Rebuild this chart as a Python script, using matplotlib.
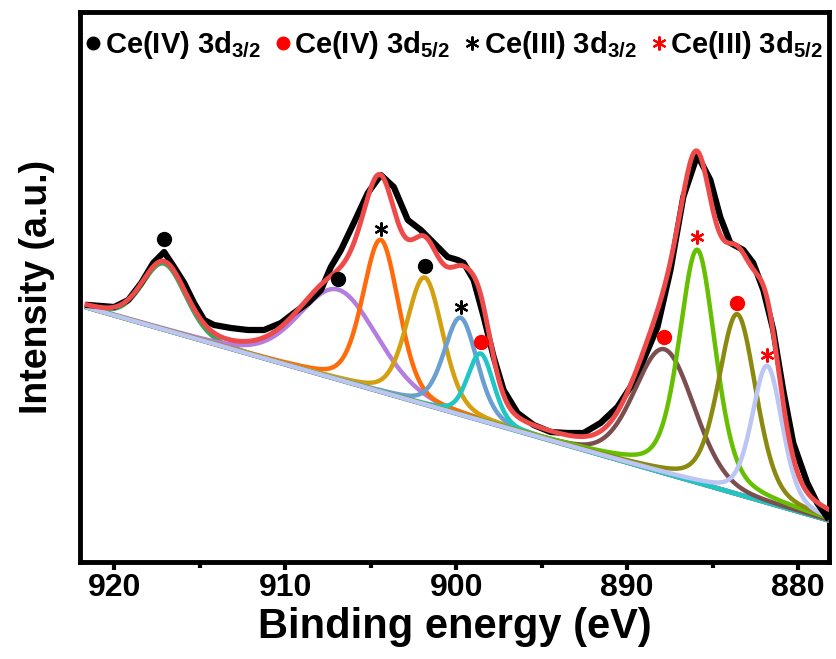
import numpy as np
import matplotlib
matplotlib.use("Agg")
import matplotlib.pyplot as plt
from matplotlib.lines import Line2D
import matplotlib.transforms as mtransforms

plt.rcParams['font.family'] = ['Liberation Sans', 'DejaVu Sans']
plt.rcParams['font.weight'] = 'bold'
plt.rcParams['mathtext.fontset'] = 'custom'
plt.rcParams['mathtext.rm'] = 'Liberation Sans:bold'
plt.rcParams['mathtext.bf'] = 'Liberation Sans:bold'
plt.rcParams['mathtext.it'] = 'Liberation Sans:bold'

# ---- measured spectrum (binding energy, intensity a.u.) ----
exp_energy = [921.52, 920.76, 920.0, 919.18, 918.42, 917.72, 917.08, 916.50, 915.91, 915.33,
              914.74, 914.16, 913.17, 912.18, 911.24, 910.25, 909.49, 908.67, 907.91, 907.33,
              906.74, 905.99, 905.17, 904.41, 903.65, 902.83, 902.07, 901.31, 900.50, 899.91,
              899.56, 898.98, 898.39, 897.81, 897.23, 896.41, 895.47, 894.48, 893.49, 892.55,
              891.56, 890.57, 889.81, 889.05, 888.23, 887.47, 886.72, 885.90, 885.14, 884.56,
              883.97, 883.21, 882.63, 882.04, 881.46, 880.88, 880.29, 879.47, 878.89, 878.31]
exp_intensity = [257, 256, 255, 262, 279, 299, 310, 295, 279, 259,
                 242, 237, 234, 232, 232, 239, 249, 259, 272, 295,
                 312, 339, 369, 387, 375, 342, 332, 319, 305, 302,
                 299, 282, 245, 205, 172, 149, 137, 130, 129, 129,
                 139, 155, 175, 202, 235, 292, 365, 407, 382, 345,
                 319, 312, 299, 272, 232, 172, 119, 79, 59, 45]

# ---- linear background (end points) ----
bg_energy = [921.6, 878.2]
bg_intensity = [254.5, 41.5]

# ---- fitted components ----
peak_center = [917.08, 906.9, 904.41, 901.84, 899.74, 898.57, 887.82, 885.90, 883.56, 881.81]
peak_height = [66, 90, 152, 127, 97, 67, 124, 233, 180, 137]
peak_fwhm = [3.0, 5.4, 2.5, 2.5, 2.3, 1.8, 4.1, 2.5, 2.6, 2.1]
peak_eta = [0.2, 0.2, 0.3, 0.3, 0.3, 0.3, 0.15, 0.4, 0.35, 0.35]
peak_colors = ['#3aa65e', '#b37ee0', '#ff6a0a', '#d4a00f', '#6a9fcf', '#1fc6c6',
               '#7b4f50', '#66bf00', '#8a8a10', '#bcc6f4']
# marker above each peak: type, colour, gap above the apex (points)
peak_mark = ['dot', 'dot', 'star', 'dot', 'star', 'dot', 'dot', 'star', 'dot', 'star']
peak_mark_color = ['k', 'k', 'k', 'k', 'k', 'r', 'r', 'r', 'r', 'r']
peak_mark_gap = [18, 8, 8, 8, 8, 8, 9, 9, 8, 8]

legend_labels = [r'Ce(IV) 3d$_{3/2}$', r'Ce(IV) 3d$_{5/2}$',
                 r'Ce(III) 3d$_{3/2}$', r'Ce(III) 3d$_{5/2}$']
legend_marks = ['dot', 'dot', 'star', 'star']
legend_colors = ['k', 'r', 'k', 'r']

x_ticks = [920, 910, 900, 890, 880]
x_minor = [915, 905, 895, 885]
x_limits = (922.0, 878.2)


def pvoigt(x, c, h, w, eta):
    s = w / 2.3548
    g = np.exp(-(x - c) ** 2 / (2 * s ** 2))
    l = 1.0 / (1.0 + ((x - c) / (w / 2)) ** 2)
    return h * ((1 - eta) * g + eta * l)


fig = plt.figure(figsize=(8.36, 6.59), dpi=100)
ax = fig.add_axes([80 / 836, 1 - 562 / 659, (829 - 80) / 836, (562 - 12) / 659])

E = np.linspace(921.6, 878.2, 1500)
bg = np.interp(E, bg_energy[::-1], bg_intensity[::-1])

# background
ax.plot(E, bg, color='#5f9fd6', lw=3.4, zorder=2)
ax.plot(E, bg + 0.8, color='#bcc6f4', lw=2.8, zorder=2)

comps = []
for c, h, w, eta, col in zip(peak_center, peak_height, peak_fwhm, peak_eta, peak_colors):
    p = pvoigt(E, c, h, w, eta)
    comps.append(p)
    ax.plot(E, bg + p, color=col, lw=3.2, zorder=3, solid_capstyle='round')

envelope = bg + np.sum(comps, axis=0)

ax.plot(exp_energy, exp_intensity, color='k', lw=4.5, zorder=4)
ax.plot(E, envelope, color='#ee4a4a', lw=3.5, zorder=5)

# peak markers
for c, h, m, mc, gap in zip(peak_center, peak_height, peak_mark, peak_mark_color, peak_mark_gap):
    ytop = np.interp(c, bg_energy[::-1], bg_intensity[::-1]) + h
    tr = mtransforms.offset_copy(ax.transData, fig=fig, x=0, y=gap, units='points')
    if m == 'dot':
        ax.plot([c], [ytop], marker='o', ms=10, color=mc, mec=mc, transform=tr, zorder=6, ls='none')
    else:
        ax.plot([c], [ytop], marker=(6, 2, 0), ms=10, mew=1.6, color=mc, mec=mc,
                transform=tr, zorder=6, ls='none')

# legend
handles = []
for m, col in zip(legend_marks, legend_colors):
    if m == 'dot':
        handles.append(Line2D([], [], marker='o', ms=9, color=col, ls='none'))
    else:
        handles.append(Line2D([], [], marker=(6, 2, 0), ms=10, mew=1.5, color=col, mec=col, ls='none'))
leg = ax.legend(handles, legend_labels, ncol=4, loc='upper center', bbox_to_anchor=(0.5, 1.006),
                frameon=False, fontsize=21, handlelength=0.5, handletextpad=0.15,
                columnspacing=0.5, borderaxespad=0.3)
for t in leg.get_texts():
    t.set_fontweight('bold')

ax.set_xlim(*x_limits)
ax.set_ylim(0, 550)
ax.set_xticks(x_ticks)
ax.set_xticks(x_minor, minor=True)
ax.set_yticks([])
ax.tick_params(axis='x', which='major', direction='out', length=6, width=3, labelsize=23, pad=2)
ax.tick_params(axis='x', which='minor', direction='out', length=4, width=3)
for lab in ax.get_xticklabels():
    lab.set_fontweight('bold')
for sp in ax.spines.values():
    sp.set_linewidth(3.5)

ax.set_xlabel('Binding energy (eV)', fontsize=30, fontweight='bold', labelpad=3)
ax.set_ylabel('Intensity (a.u.)', fontsize=27, fontweight='bold', labelpad=18)

fig.savefig('out.png', dpi=100)
